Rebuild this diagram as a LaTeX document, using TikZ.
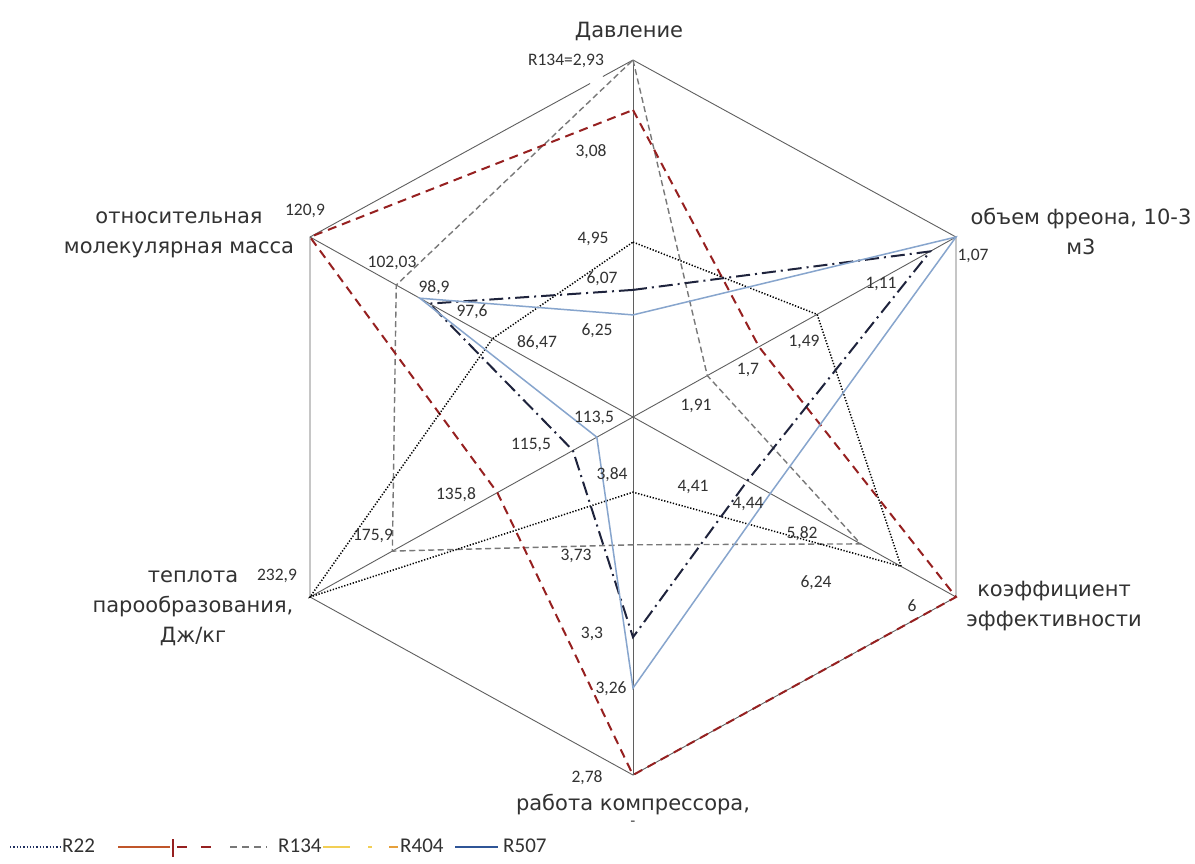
\documentclass[tikz,border=0pt]{standalone}
\usepackage{fontspec}
\newfontfamily\catfont{DejaVu Sans}
\newfontfamily\numfont{Carlito}
\usetikzlibrary{calc}
\definecolor{axisgray}{RGB}{95,95,95}
\definecolor{txtgray}{RGB}{50,50,50}
\definecolor{rdark}{RGB}{150,32,32}
\definecolor{rgray}{RGB}{120,120,120}
\definecolor{rnavy}{RGB}{30,35,60}
\definecolor{rblue}{RGB}{135,165,205}
\definecolor{lgbrown}{RGB}{192,86,42}
\definecolor{lgyellow}{RGB}{242,207,85}
\definecolor{lgorange}{RGB}{230,160,60}
\definecolor{lgblue}{RGB}{47,85,151}
\definecolor{lgnavy}{RGB}{31,47,95}

\begin{document}
\begin{tikzpicture}[x=1pt,y=-1pt,
  axisline/.style={axisgray,line width=0.9pt},
  catlabel/.style={font=\catfont\fontsize{21}{30}\selectfont,text=txtgray,align=center,inner sep=0pt},
  numlabel/.style={font=\numfont\fontsize{17.5}{20}\selectfont,text=txtgray,inner sep=0pt},
  leglabel/.style={font=\numfont\fontsize{21}{24}\selectfont,text=txtgray,inner sep=0pt,anchor=west},
  r22line/.style={black,line width=1.5pt,dash pattern=on 1.3pt off 1.7pt},
  r134line/.style={rgray,line width=1.4pt,dash pattern=on 6pt off 3.5pt},
  redline/.style={rdark,line width=2pt,dash pattern=on 9pt off 6pt},
  r404line/.style={rnavy,line width=2pt,dash pattern=on 14pt off 5pt on 2pt off 5pt},
  r507line/.style={rblue,line width=1.5pt}]

  \useasboundingbox[fill=white] (0,0) rectangle (1195,863);

  % hexagon
  \coordinate (c) at (633,417);
  \coordinate (a0) at (633,60);
  \coordinate (a1) at (956,237);
  \coordinate (a2) at (956,597);
  \coordinate (a3) at (633,775);
  \coordinate (a4) at (310,597);
  \coordinate (a5) at (310,237);
  \coordinate (gap1) at ($(a5)!0.867!(a0)$);
  \coordinate (gap2) at ($(a5)!0.907!(a0)$);

  \foreach \i in {0,...,5}
    \draw[axisline] (c) -- (a\i);
  \draw[axisline] (a0) -- (a1) -- (a2) -- (a3) -- (a4) -- (a5) -- (gap1);
  \draw[axisline] (gap2) -- (a0);

  % series
  \foreach \i/\f in {0/1,1/0.23,2/0.705,3/0.357,4/0.745,5/0.733}
    \coordinate (q134-\i) at ($(c)!\f!(a\i)$);
  \foreach \i/\f in {0/0.86,1/0.39,2/1,3/1,4/0.42,5/1}
    \coordinate (qred-\i) at ($(c)!\f!(a\i)$);
  \foreach \i/\f in {0/0.49,1/0.57,2/0.83,3/0.21,4/1,5/0.435}
    \coordinate (q22-\i) at ($(c)!\f!(a\i)$);
  \foreach \i/\f in {0/0.356,1/0.92,2/0.354,3/0.615,4/0.186,5/0.63}
    \coordinate (q404-\i) at ($(c)!\f!(a\i)$);
  \foreach \i/\f in {0/0.286,1/1,2/0.425,3/0.757,4/0.112,5/0.66}
    \coordinate (q507-\i) at ($(c)!\f!(a\i)$);

  \draw[r134line] (q134-0) -- (q134-1) -- (q134-2) -- (q134-3) -- (q134-4) -- (q134-5) -- cycle;
  \draw[redline] (qred-0) -- (qred-1) -- (qred-2) -- (qred-3) -- (qred-4) -- (qred-5) -- cycle;
  \draw[r22line] (q22-0) -- (q22-1) -- (q22-2) -- (q22-3) -- (q22-4) -- (q22-5) -- cycle;
  \draw[r404line] (q404-0) -- (q404-1) -- (q404-2) -- (q404-3) -- (q404-4) -- (q404-5) -- cycle;
  \draw[r507line] (q507-0) -- (q507-1) -- (q507-2) -- (q507-3) -- (q507-4) -- (q507-5) -- cycle;

  % axis titles
  \node[catlabel] (tp) at (629,31) {Давление};
  \node[catlabel] (tv) at (1081,231) {объем фреона, 10-3\\м3};
  \node[catlabel] (tk) at (1054,606) {коэффициент\\эффективности};
  \node[catlabel] (tw) at (633,805) {работа компрессора,};
  \node[catlabel,font=\catfont\fontsize{14}{16}\selectfont] (twx) at (633,823) {-};
  \node[catlabel] (tq) at (193,608) {теплота\\парообразования,\\Дж/кг};
  \node[catlabel] (tm) at (179,235) {относительная\\молекулярная масса};

  % values
  \node[numlabel] (n01) at (566,61) {R134=2,93};
  \node[numlabel] (n02) at (591,152) {3,08};
  \node[numlabel] (n03) at (593,239) {4,95};
  \node[numlabel] (n04) at (602,279) {6,07};
  \node[numlabel] (n05) at (597,331) {6,25};
  \node[numlabel] (n06) at (973,256) {1,07};
  \node[numlabel] (n07) at (881,284) {1,11};
  \node[numlabel] (n08) at (804,342) {1,49};
  \node[numlabel] (n09) at (748,370) {1,7};
  \node[numlabel] (n10) at (696,406) {1,91};
  \node[numlabel] (n11) at (693,487) {4,41};
  \node[numlabel] (n12) at (748,504) {4,44};
  \node[numlabel] (n13) at (802,534) {5,82};
  \node[numlabel] (n14) at (816,583) {6,24};
  \node[numlabel] (n15) at (912,606) {6};
  \node[numlabel] (n16) at (612,475) {3,84};
  \node[numlabel] (n17) at (576,556) {3,73};
  \node[numlabel] (n18) at (592,634) {3,3};
  \node[numlabel] (n19) at (611,689) {3,26};
  \node[numlabel] (n20) at (587,778) {2,78};
  \node[numlabel] (n21) at (594,418) {113,5};
  \node[numlabel] (n22) at (531,445) {115,5};
  \node[numlabel] (n23) at (456,495) {135,8};
  \node[numlabel] (n24) at (373,536) {175,9};
  \node[numlabel] (n25) at (277,576) {232,9};
  \node[numlabel] (n26) at (305,211) {120,9};
  \node[numlabel] (n27) at (392,263) {102,03};
  \node[numlabel] (n28) at (434,288) {98,9};
  \node[numlabel] (n29) at (472,312) {97,6};
  \node[numlabel] (n30) at (537,343) {86,47};

  % legend
  \coordinate (l1a) at (10,847);  \coordinate (l1b) at (60,847);
  \coordinate (l2a) at (118,847); \coordinate (l2b) at (170,847);
  \coordinate (l3a) at (173,839); \coordinate (l3b) at (173,857);
  \coordinate (l4a) at (177,847); \coordinate (l4b) at (213,847);
  \coordinate (l5a) at (230,847); \coordinate (l5b) at (267,847);
  \coordinate (l6a) at (323,847); \coordinate (l6b) at (350,847);
  \coordinate (l7a) at (368,847); \coordinate (l7b) at (372,847);
  \coordinate (l8a) at (389,847); \coordinate (l8b) at (398,847);
  \coordinate (l9a) at (455,847); \coordinate (l9b) at (498,847);
  \draw[lgnavy,line width=1.6pt,dash pattern=on 1.3pt off 2pt] (l1a) -- (l1b);
  \node[leglabel] (lg22) at (62,846) {R22};
  \draw[lgbrown,line width=2.5pt] (l2a) -- (l2b);
  \draw[rdark,line width=1.5pt] (l3a) -- (l3b);
  \draw[rdark,line width=2.5pt,dash pattern=on 10pt off 14pt] (l4a) -- (l4b);
  \draw[rgray,line width=2pt,dash pattern=on 7pt off 5pt] (l5a) -- (l5b);
  \node[leglabel] (lg134) at (278,846) {R134};
  \draw[lgyellow,line width=2.5pt] (l6a) -- (l6b);
  \draw[lgyellow,line width=2.5pt] (l7a) -- (l7b);
  \draw[lgorange,line width=2.5pt] (l8a) -- (l8b);
  \node[leglabel] (lg404) at (400,846) {R404};
  \draw[lgblue,line width=2.5pt] (l9a) -- (l9b);
  \node[leglabel] (lg507) at (503,846) {R507};
\end{tikzpicture}
\end{document}
